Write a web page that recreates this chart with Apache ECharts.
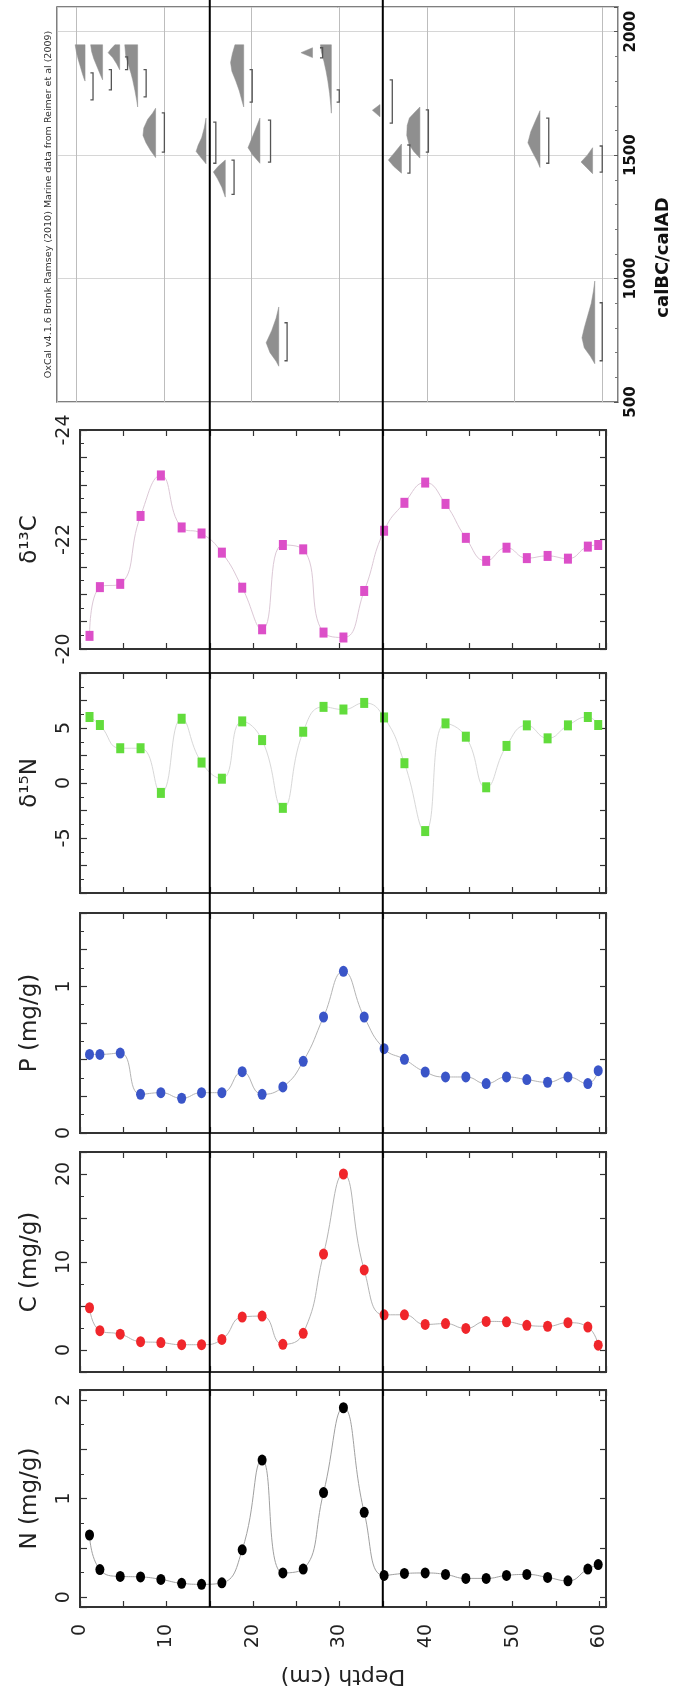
<!DOCTYPE html>
<html><head><meta charset="utf-8">
<script src="https://cdn.jsdelivr.net/npm/echarts@6/dist/echarts.min.js"></script>
<style>html,body{margin:0;padding:0;background:#fff}#c{width:680px;height:1702px}</style>
</head><body><div id="c"></div>
<script>
// ---------- data ----------
const depth = [1.1, 2.3, 4.65, 7.0, 9.35, 11.75, 14.05, 16.4, 18.75, 21.05, 23.45, 25.8, 28.15, 30.45, 32.85, 35.15, 37.5, 39.9, 42.25, 44.6, 46.95, 49.3, 51.65, 54.05, 56.4, 58.7, 59.9];
const nVals = [0.63, 0.28, 0.21, 0.205, 0.18, 0.14, 0.13, 0.145, 0.48, 1.39, 0.245, 0.285, 1.06, 1.92, 0.86, 0.22, 0.24, 0.245, 0.23, 0.19, 0.19, 0.22, 0.23, 0.2, 0.165, 0.285, 0.33];
const cVals = [4.8, 2.2, 1.8, 0.95, 0.85, 0.6, 0.6, 1.2, 3.75, 3.85, 0.65, 1.9, 10.9, 20.0, 9.1, 4.0, 4.0, 2.9, 3.0, 2.45, 3.25, 3.2, 2.8, 2.7, 3.1, 2.6, 0.55];
const pVals = [0.536, 0.536, 0.545, 0.264, 0.275, 0.237, 0.275, 0.275, 0.418, 0.264, 0.314, 0.489, 0.791, 1.102, 0.791, 0.575, 0.502, 0.416, 0.382, 0.382, 0.337, 0.382, 0.364, 0.346, 0.382, 0.337, 0.425];
const d15NVals = [6.0, 5.27, 3.16, 3.16, -0.9, 5.84, 1.86, 0.39, 5.6, 3.9, -2.26, 4.66, 6.92, 6.68, 7.28, 5.96, 1.8, -4.37, 5.42, 4.21, -0.39, 3.37, 5.24, 4.06, 5.24, 6.0, 5.27];
const d13CVals = [-20.24, -21.13, -21.19, -22.43, -23.17, -22.22, -22.11, -21.76, -21.12, -20.36, -21.9, -21.82, -20.3, -20.21, -21.06, -22.16, -22.67, -23.04, -22.65, -22.03, -21.61, -21.85, -21.66, -21.7, -21.65, -21.87, -21.9];

const depthLabels = [0, 10, 20, 30, 40, 50, 60];
const nLabels = [0, 1, 2];
const cLabels = [0, 10, 20];
const pLabels = [0, 1];
const d15NLabels = [-5, 0, 5];
const d13CLabels = [-24, -22, -20];
const boundaryDepths = [15, 35];

const oxcalYearLabels = [500, 1000, 1500, 2000];
const oxcalBaselines = [1.0, 3.0, 4.95, 7.0, 9.05, 14.8, 17.0, 19.1, 20.95, 23.1, 26.95, 29.1, 34.65, 37.1, 39.2, 52.9, 58.9, 59.15];
const oxcalShapes = [
  [[1947,1.13],[1920,1.0],[1890,0.8],[1860,0.55],[1830,0.3],[1810,0.12],[1800,0]],
  [[1947,1.36],[1920,1.25],[1890,1.0],[1860,0.65],[1830,0.3],[1805,0]],
  [[1947,0.55],[1930,1.0],[1915,1.32],[1895,0.8],[1870,0.35],[1846,0]],
  [[1947,1.47],[1900,1.35],[1860,1.0],[1830,0.75],[1805,0.57],[1760,0.3],[1720,0.1],[1695,0]],
  [[1690,0],[1670,0.35],[1645,0.9],[1610,1.35],[1580,1.44],[1550,1.1],[1520,0.6],[1490,0]],
  [[1650,0],[1610,0.2],[1570,0.5],[1540,0.9],[1515,1.13],[1495,0.7],[1465,0]],
  [[1480,0],[1455,0.8],[1432,1.36],[1405,0.9],[1370,0.4],[1330,0]],
  [[1947,1.0],[1910,1.3],[1875,1.5],[1840,1.35],[1800,0.9],[1760,0.5],[1720,0.2],[1695,0]],
  [[1650,0],[1610,0.45],[1570,0.9],[1530,1.36],[1500,0.8],[1467,0]],
  [[885,0],[840,0.3],[790,0.8],[740,1.44],[700,1.0],[665,0.3],[645,0]],
  [[1935,0],[1915,1.32],[1895,0]],
  [[1947,1.25],[1920,1.15],[1880,0.85],[1840,0.6],[1800,0.4],[1750,0.2],[1700,0.06],[1670,0]],
  [[1705,0],[1682,0.87],[1655,0]],
  [[1545,0],[1510,0.8],[1480,1.5],[1455,0.9],[1427,0]],
  [[1695,0],[1675,0.55],[1650,1.2],[1620,1.45],[1580,1.5],[1545,1.25],[1515,0.7],[1488,0]],
  [[1680,0],[1640,0.5],[1595,1.05],[1550,1.38],[1515,0.9],[1475,0.3],[1450,0]],
  [[1530,0],[1500,0.6],[1472,1.32],[1450,0.7],[1425,0]],
  [[990,0],[950,0.15],[900,0.4],[850,0.8],[800,1.2],[760,1.46],[720,1.2],[685,0.5],[655,0]]
];
const rangeBarPos  = [1.91, 4.0, 5.85, 7.97, 10.05, 15.92, 18.0, 20.07, 22.16, 24.05, 28.1, 30.0, 36.05, 38.06, 40.17, 53.9, 60.0, 60.0];
const rangeBarFrom = [1833, 1846, 1898, 1846, 1671, 1634, 1480, 1846, 1642, 821, 1935, 1764, 1805, 1541, 1683, 1650, 1537, 902];
const rangeBarTo   = [1724, 1764, 1846, 1736, 1512, 1467, 1341, 1715, 1472, 667, 1894, 1715, 1630, 1427, 1512, 1467, 1431, 667];
const oxcalCredit = 'OxCal v4.1.6 Bronk Ramsey (2010) Marine data from Reimer et al (2009)';

// ---------- layout / style ----------
const FONT = 'DejaVu Sans';
const TXT = '#222';
const panels = [
  {name:'δ¹³C',     vals:d13CVals, labels:d13CLabels, min:-24, max:-20, interval:0.5, inverse:true, color:'#dc4fc8', symbol:'rect',   size:[8,10], line:'#dcc8d6', top:430,  height:219},
  {name:'δ¹⁵N',     vals:d15NVals, labels:d15NLabels, min:-10, max:10,  interval:2.5, inverse:false, color:'#62dc3c', symbol:'rect',  size:[8,10], line:'#d8d8d8', top:673,  height:220},
  {name:'P (mg/g)', vals:pVals,    labels:pLabels,    min:0,   max:1.5, interval:0.25, inverse:false, color:'#3a55c8', symbol:'circle', size:[9,11], line:'#b4b4b4', top:913, height:220},
  {name:'C (mg/g)', vals:cVals,    labels:cLabels,    min:-2.5,max:22.5, interval:null, inverse:false, color:'#f0262b', symbol:'circle', size:[9,11], line:'#b4b4b4', top:1152, height:220},
  {name:'N (mg/g)', vals:nVals,    labels:nLabels,    min:-0.1,max:2.1, interval:null, inverse:false, color:'#000000', symbol:'circle', size:[9,11], line:'#a0a0a0', top:1390, height:217}
];
const isIn = (arr, v) => arr.some(a => Math.abs(a - v) < 1e-9);
const noLine = {show:false, onZero:false};

const grids = [{left:57, top:7, width:564, height:395, show:true, borderColor:'#555', borderWidth:1.5, backgroundColor:'transparent'}];
panels.forEach(p => grids.push({left:80, width:526, top:p.top, height:p.height, show:true, borderColor:'#333', borderWidth:2, backgroundColor:'transparent'}));
grids.push({left:80, width:526, top:0, height:1607});
const overlayGrid = grids.length - 1;

const xAxes = [{
  gridIndex:0, type:'value', min:-2.2, max:61.8, splitNumber:6,
  axisLine:noLine, axisTick:{show:false}, axisLabel:{show:false},
  splitLine:{show:true, lineStyle:{color:'#bdbdbd', width:1}}
}];
const yAxes = [{
  gridIndex:0, type:'value', min:500, max:2100, interval:500, position:'right',
  axisLine:noLine,
  axisTick:{show:true, inside:true, length:4, lineStyle:{color:'#555'}},
  minorTick:{show:true, splitNumber:5, length:3, lineStyle:{color:'#777'}},
  splitLine:{show:true, lineStyle:{color:'#d6d6d6', width:1}},
  axisLabel:{rotate:90, margin:6, fontSize:15, fontWeight:'bold', color:'#111', fontFamily:FONT,
    formatter: v => isIn(oxcalYearLabels, v) ? String(v) : ''},
  name:'calBC/calAD', nameLocation:'middle', nameRotate:90, nameGap:36,
  nameTextStyle:{fontSize:18, fontWeight:'bold', color:'#111', fontFamily:FONT, padding:[0, 106, 0, 0]}
},{
  gridIndex:0, type:'value', min:500, max:2100, position:'left',
  axisLine:noLine, axisTick:{show:false}, axisLabel:{show:false}, splitLine:{show:false},
  name:oxcalCredit, nameLocation:'middle', nameRotate:90, nameGap:3,
  nameTextStyle:{fontSize:9.5, color:'#333', fontFamily:FONT}
}];

const series = [];

panels.forEach((p, i) => {
  const g = i + 1;
  const last = i === panels.length - 1;
  const xb = xAxes.length;
  xAxes.push({
    gridIndex:g, type:'value', min:0, max:60.8, interval:5, position:'bottom',
    axisLine:noLine, splitLine:{show:false},
    axisTick:{show:true, inside:true, length:6, lineStyle:{color:'#333', width:1.2}},
    axisLabel: last ? {show:true, rotate:90, margin:17, fontSize:19, color:TXT, fontFamily:FONT,
      formatter: v => isIn(depthLabels, v) ? String(v) : ''} : {show:false},
    name: last ? 'Depth (cm)' : '', nameLocation:'middle', nameRotate:180, nameGap:58,
    nameTextStyle:{fontSize:22, color:TXT, fontFamily:FONT}
  });
  xAxes.push({
    gridIndex:g, type:'value', min:0, max:60.8, interval:5, position:'top',
    axisLine:noLine, splitLine:{show:false}, axisLabel:{show:false},
    axisTick:{show:true, inside:true, length:6, lineStyle:{color:'#333', width:1.2}}
  });
  const yl = yAxes.length;
  const base = {gridIndex:g, type:'value', min:p.min, max:p.max, inverse:p.inverse,
    axisLine:noLine, splitLine:{show:false}};
  if (p.interval) base.interval = p.interval;
  yAxes.push(Object.assign({}, base, {
    position:'left',
    axisTick:{show:true, inside:true, length:7, lineStyle:{color:'#333', width:1.2}},
    minorTick:{show:true, splitNumber:2, length:4, lineStyle:{color:'#333'}},
    axisLabel:{rotate:90, margin:6, fontSize:19, color:TXT, fontFamily:FONT,
      formatter: v => isIn(p.labels, v) ? String(v) : ''},
    name:p.name, nameLocation:'middle', nameRotate:90, nameGap:38,
    nameTextStyle:{fontSize:23, color:TXT, fontFamily:FONT}
  }));
  yAxes.push(Object.assign({}, base, {
    position:'right', axisLabel:{show:false},
    axisTick:{show:true, inside:true, length:6, lineStyle:{color:'#333', width:1.2}}
  }));
  series.push({
    type:'line', xAxisIndex:xb, yAxisIndex:yl,
    data: depth.map((d, k) => [d, p.vals[k]]),
    smooth:0.5, symbol:p.symbol, symbolSize:p.size, showSymbol:true,
    itemStyle:{color:p.color}, lineStyle:{color:p.line, width:1},
    z:3
  });
});

// overlay axes for the boundary lines
const ox = xAxes.length;
xAxes.push({gridIndex:overlayGrid, type:'value', min:0, max:60.8, show:false, axisLine:noLine});
const oy = yAxes.length;
yAxes.push({gridIndex:overlayGrid, type:'value', min:0, max:1, show:false, axisLine:noLine});

// OxCal distributions
series.push({
  type:'custom', xAxisIndex:0, yAxisIndex:0, z:2,
  data: oxcalBaselines.map((u, i) => [u, oxcalShapes[i][0][0]]),
  renderItem: (params, api) => {
    const i = params.dataIndex;
    const u = oxcalBaselines[i];
    const shp = oxcalShapes[i];
    const pts = shp.map(([yr, w]) => api.coord([u - w, yr]));
    pts.push(api.coord([u, shp[shp.length - 1][0]]));
    pts.push(api.coord([u, shp[0][0]]));
    return {type:'polygon', shape:{points:pts}, style:{fill:'#8f8f8f', stroke:'#8f8f8f', lineWidth:0.5}};
  }
});
// OxCal range bars
series.push({
  type:'custom', xAxisIndex:0, yAxisIndex:0, z:2,
  data: rangeBarPos.map((u, i) => [u, rangeBarFrom[i], rangeBarTo[i]]),
  renderItem: (params, api) => {
    const u = api.value(0), a = api.value(1), b = api.value(2);
    const pts = [api.coord([u - 0.3, a]), api.coord([u, a]), api.coord([u, b]), api.coord([u - 0.3, b])];
    return {type:'polyline', shape:{points:pts}, style:{stroke:'#555', lineWidth:1.3, fill:null}};
  }
});
// depth boundary lines
series.push({
  type:'custom', xAxisIndex:ox, yAxisIndex:oy, z:20,
  data: boundaryDepths.map(b => [b, 0.5]),
  renderItem: (params, api) => {
    const x = api.value(0);
    const p0 = api.coord([x, 0]), p1 = api.coord([x, 1]);
    return {type:'line', shape:{x1:p0[0], y1:p0[1], x2:p1[0], y2:p1[1]}, style:{stroke:'#000', lineWidth:2}};
  }
});

const chart = echarts.init(document.getElementById('c'), null, {renderer:'canvas', width:680, height:1702});
chart.setOption({
  animation:false,
  backgroundColor:'#fff',
  grid:grids, xAxis:xAxes, yAxis:yAxes, series:series
});
</script>
</body></html>
